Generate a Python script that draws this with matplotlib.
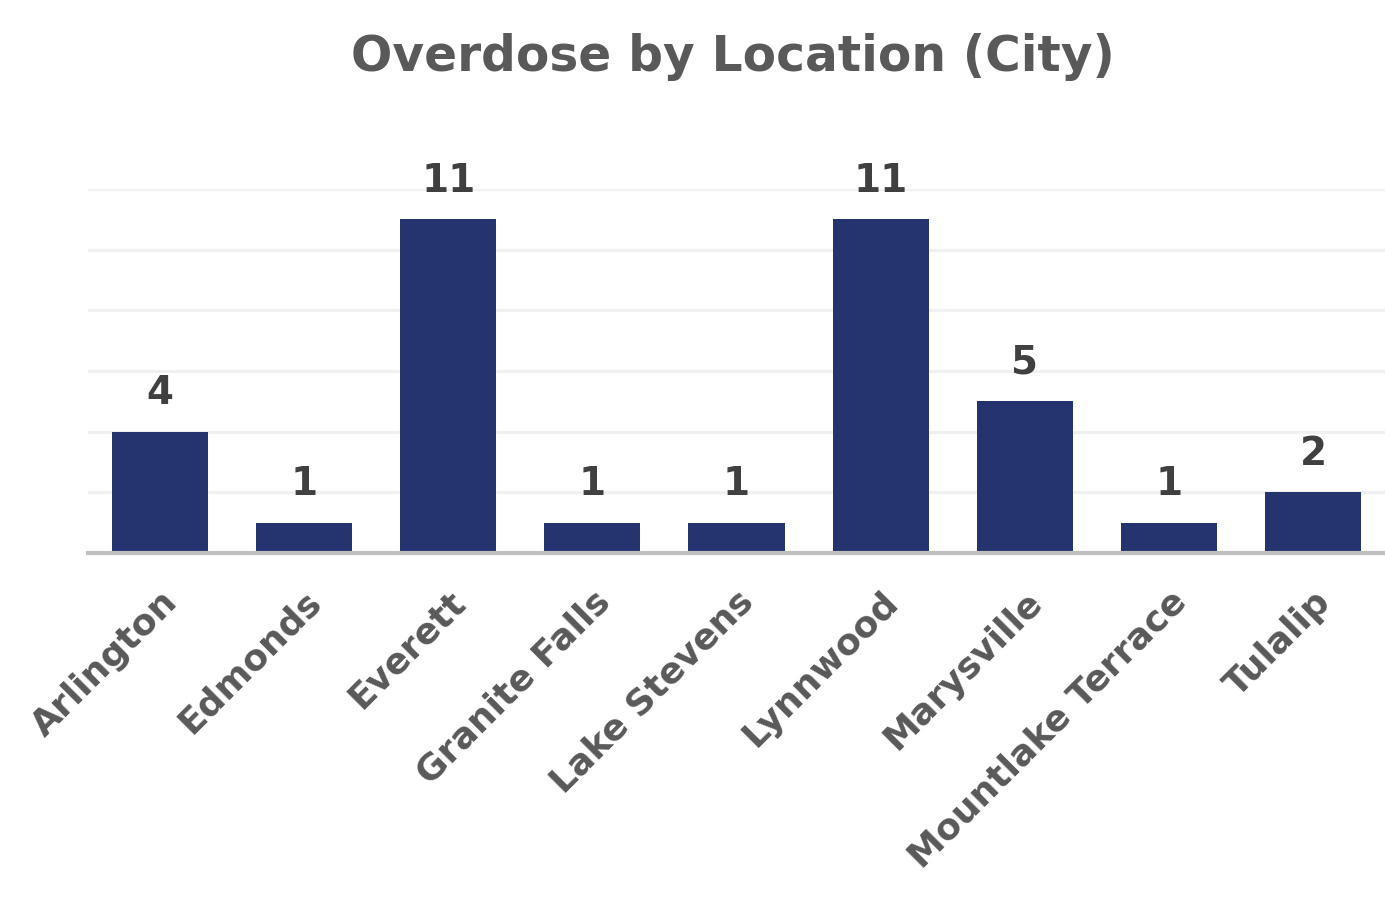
import matplotlib.pyplot as plt

cities = ["Arlington", "Edmonds", "Everett", "Granite Falls", "Lake Stevens",
          "Lynnwood", "Marysville", "Mountlake Terrace", "Tulalip"]
counts = [4, 1, 11, 1, 1, 11, 5, 1, 2]

plt.rcParams['font.family'] = ['DejaVu Sans']

fig = plt.figure(figsize=(13.85, 8.98), dpi=100)
ax = fig.add_axes([88/1385, 345/898, 1297/1385, 364/898])

x = list(range(len(cities)))
ax.bar(x, counts, width=0.667, color="#25336e", zorder=3)
ax.set_xlim(-0.5, len(cities) - 0.5)
ax.set_ylim(0, 12)
ax.set_yticks([2, 4, 6, 8, 10, 12])
ax.yaxis.grid(True, color="#f0f0f0", linewidth=2.2, zorder=0)
ax.tick_params(axis="y", left=False, labelleft=False)
ax.tick_params(axis="x", bottom=False, pad=19)
for s in ["top", "right", "left"]:
        ax.spines[s].set_visible(False)
ax.spines["bottom"].set_color("#bfbfbf")
ax.spines["bottom"].set_linewidth(3)
ax.spines["bottom"].set_zorder(4)

ax.set_xticks(x)
ax.set_xticklabels(cities, rotation=45, ha="right", rotation_mode="anchor",
                   fontsize=26, fontweight="bold", color="#595959")

for xi, c in zip(x, counts):
        ax.annotate(str(c), (xi, c), xytext=(0, 14), textcoords="offset points",
                    ha="center", va="bottom", fontsize=28, fontweight="bold",
                    color="#404040")

fig.text(0.529, 0.937, "Overdose by Location (City)", ha="center", va="center",
         fontsize=35, fontweight="bold", color="#595959")

fig.savefig("out.png", dpi=100)
